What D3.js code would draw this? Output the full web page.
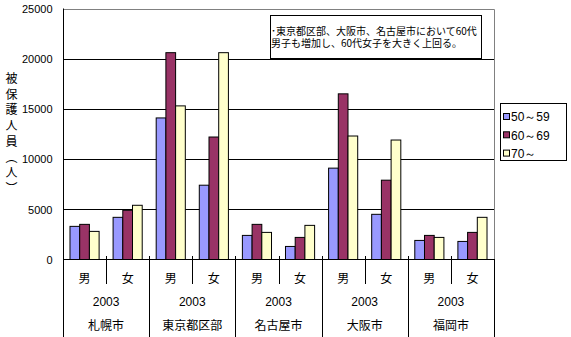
<!DOCTYPE html>
<html>
<head>
<meta charset="utf-8">
<script src="https://cdn.jsdelivr.net/npm/d3@7"></script>
<style>
  html, body { margin: 0; padding: 0; background: #fff; }
  svg { display: block; }
  .num { font-family: "Liberation Sans", Arial, sans-serif; }
  .jp { font-family: "Noto Sans CJK JP", sans-serif; }
</style>
</head>
<body>
<svg id="chart" width="571" height="337"></svg>
<script>
// Protected persons by city, sex and age band (2003)
const cities = ["札幌市", "東京都区部", "名古屋市", "大阪市", "福岡市"];
const sexes = ["男", "女"];
const year = "2003";
const seriesNames = ["50～59", "60～69", "70～"];
const seriesColors = ["#9999FF", "#993366", "#FFFFCC"];
// one entry per city×sex, in the order above
const age50s = [3300, 4200, 14100, 7400, 2400, 1300, 9100, 4500, 1900, 1800];
const age60s = [3500, 4900, 20600, 12200, 3500, 2200, 16500, 7900, 2400, 2700];
const age70plus = [2800, 5400, 15300, 20600, 2700, 3400, 12300, 11900, 2200, 4200];
const yTicks = [0, 5000, 10000, 15000, 20000, 25000];
const yTitle = ["被", "保", "護", "人", "員", "︵", "人", "︶"];
const note = ["･東京都区部、大阪市、名古屋市において60代", "男子も増加し、60代女子を大きく上回る。"];

const series = [age50s, age60s, age70plus];
const groups = [];
cities.forEach(c => sexes.forEach(s => groups.push(c + "|" + s)));

const svg = d3.select("#chart");
const plot = { left: 63, right: 494, top: 8.5, bottom: 259.5 };

const x0 = d3.scaleBand().domain(groups).range([plot.left, plot.right]).paddingInner(0).paddingOuter(0);
const x1 = d3.scaleBand().domain(d3.range(seriesNames.length)).range([0, x0.bandwidth()]).paddingInner(0).paddingOuter(0.72);
const y = d3.scaleLinear().domain([0, 25000]).range([plot.bottom, plot.top]);

// gridlines
svg.append("g").selectAll("line").data(yTicks.filter(t => t > 0 && t < 25000)).join("line")
  .attr("x1", plot.left).attr("x2", plot.right)
  .attr("y1", d => Math.round(y(d)) + 0.5).attr("y2", d => Math.round(y(d)) + 0.5)
  .attr("stroke", "#000").attr("stroke-width", 1);

// plot border (top / right)
svg.append("path")
  .attr("d", `M${plot.left},${Math.round(plot.top) + 0.5}H${plot.right + 0.5}V${plot.bottom}`)
  .attr("fill", "none").attr("stroke", "#808080");

// bars
groups.forEach((g, gi) => {
  series.forEach((vals, si) => {
    const v = vals[gi];
    svg.append("rect")
      .attr("x", x0(g) + x1(si))
      .attr("y", y(v))
      .attr("width", x1.bandwidth())
      .attr("height", y(0) - y(v))
      .attr("fill", seriesColors[si])
      .attr("stroke", "#000").attr("stroke-width", 1);
  });
});

// y axis
const yAxis = d3.axisLeft(y).tickValues(yTicks).tickSize(0).tickPadding(11).tickFormat(d3.format("d"));
const ya = svg.append("g").attr("transform", `translate(${plot.left + 0.5},0)`).call(yAxis);
ya.select(".domain").remove();
ya.selectAll("text").attr("class", "num").attr("font-size", 11).attr("fill", "#000")
  .attr("dy", "0.35em");
// y axis line extends down through category rows
svg.append("line").attr("x1", plot.left + 0.5).attr("x2", plot.left + 0.5)
  .attr("y1", plot.top).attr("y2", 337).attr("stroke", "#000");
// right border continues through category rows
svg.append("line").attr("x1", plot.right + 0.5).attr("x2", plot.right + 0.5)
  .attr("y1", plot.bottom).attr("y2", 337).attr("stroke", "#000");

// x axis line
svg.append("line").attr("x1", plot.left).attr("x2", plot.right + 1)
  .attr("y1", Math.round(plot.bottom) - 0.5).attr("y2", Math.round(plot.bottom) - 0.5)
  .attr("stroke", "#000");

// separators: sex ticks (short) and city ticks (long)
groups.forEach((g, gi) => {
  if (gi === 0) return;
  const xs = Math.round(x0(g)) + 0.5;
  const isCity = gi % sexes.length === 0;
  svg.append("line").attr("x1", xs).attr("x2", xs)
    .attr("y1", 256).attr("y2", isCity ? 337 : 284).attr("stroke", "#000");
});

// sex labels
svg.append("g").selectAll("text").data(groups).join("text")
  .attr("class", "jp").attr("font-size", 12)
  .attr("x", d => x0(d) + x0.bandwidth() / 2).attr("y", 283)
  .attr("text-anchor", "middle")
  .text(d => d.split("|")[1]);

// year and city labels
const cityWidth = x0.bandwidth() * sexes.length;
cities.forEach((c, ci) => {
  const cx = plot.left + cityWidth * ci + cityWidth / 2;
  svg.append("text").attr("class", "num").attr("font-size", 12)
    .attr("x", cx).attr("y", 306).attr("text-anchor", "middle").text(year);
  svg.append("text").attr("class", "jp").attr("font-size", 12)
    .attr("x", cx).attr("y", 330).attr("text-anchor", "middle").text(c);
});

// y title, stacked vertically
svg.append("g").selectAll("text").data(yTitle).join("text")
  .attr("class", "jp").attr("font-size", 12)
  .attr("x", 11.5).attr("y", (d, i) => 83 + i * 15.7)
  .attr("text-anchor", "middle").text(d => d);

// note box with a two-line comment
svg.append("rect").attr("x", 270.5).attr("y", 15.5).attr("width", 211).attr("height", 43)
  .attr("fill", "#fff").attr("stroke", "#000");
svg.append("text").attr("class", "jp").attr("font-size", 10)
  .attr("x", 271).attr("y", 35)
  .selectAll("tspan").data(note).join("tspan")
  .attr("x", 271).attr("dy", (d, i) => i === 0 ? 0 : 12)
  .text(d => d);

// legend
svg.append("rect").attr("x", 500.5).attr("y", 103.5).attr("width", 66).attr("height", 57)
  .attr("fill", "#fff").attr("stroke", "#000");
seriesNames.forEach((n, i) => {
  const ly = 117 + i * 18.3;
  svg.append("rect").attr("x", 503.5).attr("y", ly - 3.5).attr("width", 6).attr("height", 6)
    .attr("fill", seriesColors[i]).attr("stroke", "#000");
  svg.append("text").attr("class", "num").attr("font-size", 12)
    .attr("x", 511).attr("y", ly).attr("dy", "0.35em").text(n);
});
</script>
</body>
</html>
